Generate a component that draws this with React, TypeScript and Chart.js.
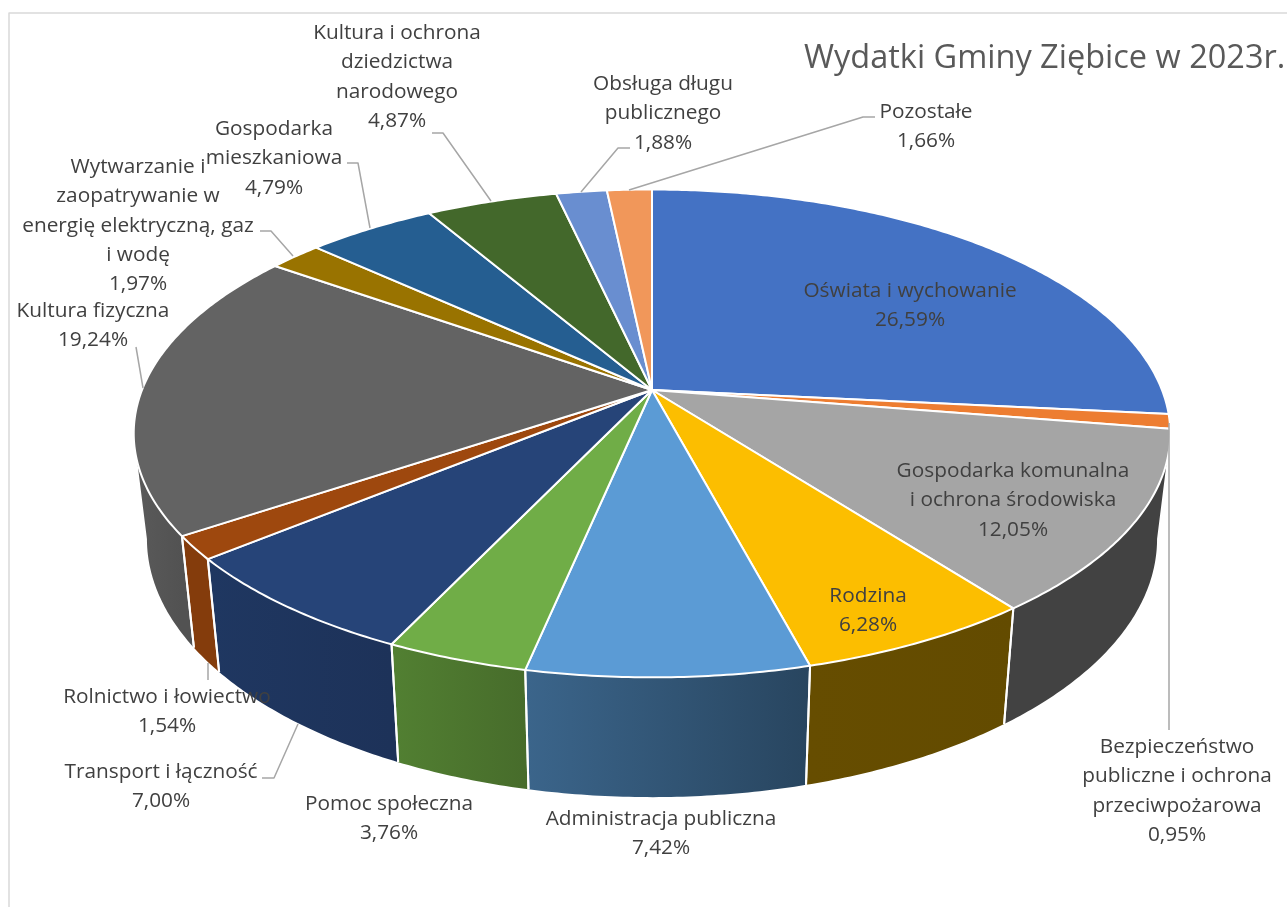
import React, { useEffect, useRef } from "react";
import { Chart, registerables } from "chart.js";

Chart.register(...registerables);

const categories = [
  ["Oświata i wychowanie"],
  ["Bezpieczeństwo", "publiczne i ochrona", "przeciwpożarowa"],
  ["Gospodarka komunalna", "i ochrona środowiska"],
  ["Rodzina"],
  ["Administracja publiczna"],
  ["Pomoc społeczna"],
  ["Transport i łączność"],
  ["Rolnictwo i łowiectwo"],
  ["Kultura fizyczna"],
  ["Wytwarzanie i", "zaopatrywanie w", "energię elektryczną, gaz", "i wodę"],
  ["Gospodarka", "mieszkaniowa"],
  ["Kultura i ochrona", "dziedzictwa", "narodowego"],
  ["Obsługa długu", "publicznego"],
  ["Pozostałe"],
];
const shares = [26.59, 0.95, 12.05, 6.28, 7.42, 3.76, 7.0, 1.54, 19.24, 1.97, 4.79, 4.87, 1.88, 1.66];
const topColors = ["#4472c4", "#ed7d31", "#a5a5a5", "#fcbe00", "#5b9bd5", "#70ad47", "#264478", "#9e480e", "#636363", "#997300", "#255e91", "#43682b", "#698ed0", "#f1975a"];
const wallColors = [
  ["#2f5597", "#2f5597"], ["#b85f22", "#b85f22"], ["#424242", "#424242"], ["#664d00", "#634b00"],
  ["#3b658b", "#28455f"], ["#528032", "#476c2b"], ["#1f3761", "#1d3259"], ["#843c0c", "#843c0c"],
  ["#5a5a5a", "#525252"], ["#6b5000", "#6b5000"], ["#1a4266", "#1a4266"], ["#2f4a1e", "#2f4a1e"],
  ["#4a6492", "#4a6492"], ["#a96a40", "#a96a40"],
];
const titleText = "Wydatki Gminy Ziębice w 2023r.";

// label anchors: centre x, first baseline
const labelAnchors = [
  [910, 297], [1177, 753], [1013, 477], [868, 602], [661, 825], [389, 810], [161, 778],
  [167, 703], [93, 317], [138, 173], [274, 135], [397, 39], [663, 90], [926, 118],
];
const leaderLines = [
  [[1169, 730], [1169, 423]],
  [[262, 778], [274, 778], [298, 724]],
  [[208, 680], [208, 663]],
  [[136, 347], [143, 388]],
  [[260, 231], [271, 231], [293, 256]],
  [[347, 163], [358, 163], [370, 228]],
  [[432, 133], [443, 133], [491, 201]],
  [[630, 148], [618, 148], [581, 192]],
  [[875, 117], [863, 117], [629, 190]],
];

const FONT = '"Open Sans", sans-serif';
const LABEL_SIZE = 20.8;
const TITLE_SIZE = 32.5;
const LINE_PITCH = 29.3;
const CX = 652;
const K = 0.178;
const TOP = { r: 510, s: 236.2, cy: 390 };
const BOTTOM = { r: 497, s: 250, cy: 493 };
const WALL_FROM = Math.asin(K);
const WALL_TO = Math.PI - Math.asin(K);

function project(a: number, ring: { r: number; s: number; cy: number }) {
  const u = Math.cos(a);
  const v = Math.sin(a);
  const d = 1 - K * v;
  return [CX + (ring.r * u) / d, ring.cy + (ring.s * v) / d];
}

function sampleAngles(a0: number, a1: number) {
  const n = Math.max(2, Math.ceil((a1 - a0) / 0.01));
  const out: number[] = [];
  for (let i = 0; i <= n; i++) out.push(a0 + ((a1 - a0) * i) / n);
  return out;
}

function drawWalls(ctx: CanvasRenderingContext2D, arcs: any[]) {
  const dividers: number[] = [];
  arcs.forEach((arc, i) => {
    const from = Math.max(arc.startAngle, WALL_FROM);
    const to = Math.min(arc.endAngle, WALL_TO);
    if (to <= from) return;
    const angles = sampleAngles(from, to);
    const topPts = angles.map((a) => project(a, TOP));
    const botPts = angles.map((a) => project(a, BOTTOM)).reverse();
    const xs = topPts.map((p) => p[0]);
    const grad = ctx.createLinearGradient(Math.max(...xs), 0, Math.min(...xs), 0);
    grad.addColorStop(0, wallColors[i][1]);
    grad.addColorStop(1, wallColors[i][0]);
    ctx.beginPath();
    [...topPts, ...botPts].forEach((p, j) => (j ? ctx.lineTo(p[0], p[1]) : ctx.moveTo(p[0], p[1])));
    ctx.closePath();
    ctx.fillStyle = grad;
    ctx.fill();
    if (arc.startAngle >= WALL_FROM) dividers.push(arc.startAngle);
    if (arc.endAngle <= WALL_TO) dividers.push(arc.endAngle);
  });
  ctx.strokeStyle = "#ffffff";
  ctx.lineWidth = 2;
  dividers.forEach((a) => {
    const t = project(a, TOP);
    const b = project(a, BOTTOM);
    ctx.beginPath();
    ctx.moveTo(t[0], t[1]);
    ctx.lineTo(b[0], b[1]);
    ctx.stroke();
  });
}

function drawTops(ctx: CanvasRenderingContext2D, arcs: any[]) {
  arcs.forEach((arc) => {
    ctx.beginPath();
    ctx.moveTo(CX, TOP.cy);
    sampleAngles(arc.startAngle, arc.endAngle).forEach((a) => {
      const p = project(a, TOP);
      ctx.lineTo(p[0], p[1]);
    });
    ctx.closePath();
    ctx.fillStyle = arc.options.backgroundColor;
    ctx.fill();
    ctx.strokeStyle = "#ffffff";
    ctx.lineWidth = 2;
    ctx.lineJoin = "round";
    ctx.stroke();
  });
}

const pie3d = {
  id: "pie3d",
  beforeDatasetsDraw(chart: any) {
    const ctx: CanvasRenderingContext2D = chart.ctx;
    const arcs = chart.getDatasetMeta(0).data;
    ctx.save();
    drawWalls(ctx, arcs);
    drawTops(ctx, arcs);

    // frame of the chart area
    ctx.strokeStyle = "#d9d9d9";
    ctx.lineWidth = 1.5;
    ctx.beginPath();
    ctx.moveTo(9, 907);
    ctx.lineTo(9, 13);
    ctx.lineTo(1287, 13);
    ctx.stroke();

    // leader lines
    ctx.strokeStyle = "#a6a6a6";
    ctx.lineWidth = 1.5;
    leaderLines.forEach((line) => {
      ctx.beginPath();
      line.forEach((p, j) => (j ? ctx.lineTo(p[0], p[1]) : ctx.moveTo(p[0], p[1])));
      ctx.stroke();
    });

    // data labels
    ctx.textAlign = "center";
    ctx.textBaseline = "alphabetic";
    ctx.fillStyle = "#404040";
    ctx.font = `${LABEL_SIZE}px ${FONT}`;
    categories.forEach((lines, i) => {
      const [x, y] = labelAnchors[i];
      const all = [...lines, shares[i].toFixed(2).replace(".", ",") + "%"];
      all.forEach((t, j) => ctx.fillText(t, x, y + j * LINE_PITCH));
    });

    // title
    ctx.textAlign = "left";
    ctx.fillStyle = "#595959";
    ctx.font = `${TITLE_SIZE}px ${FONT}`;
    ctx.fillText(titleText, 804, 68);
    ctx.restore();
    return false;
  },
};

export default function App() {
  const ref = useRef<HTMLCanvasElement | null>(null);
  useEffect(() => {
    if (!ref.current) return;
    const chart = new Chart(ref.current, {
      type: "pie",
      data: {
        labels: categories.map((c) => c.join(" ")),
        datasets: [{ data: shares, backgroundColor: topColors, borderColor: "#ffffff", borderWidth: 2 }],
      },
      options: {
        animation: false,
        responsive: false,
        plugins: { legend: { display: false }, tooltip: { enabled: false } },
      },
      plugins: [pie3d],
    } as any);
    return () => chart.destroy();
  }, []);
  return (
    <canvas
      ref={ref}
      width={1287}
      height={907}
      style={{ position: "fixed", left: 0, top: 0, display: "block", background: "#ffffff" }}
    />
  );
}
